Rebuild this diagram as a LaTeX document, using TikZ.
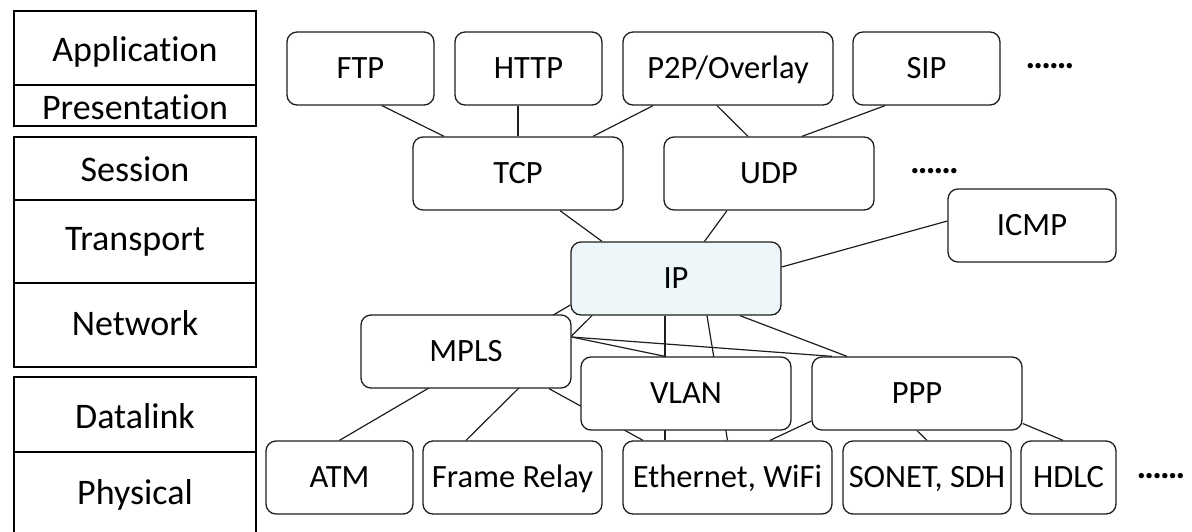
\documentclass[tikz,border=0pt]{standalone}
\usepackage{fontspec}
\setmainfont{Carlito}[Ligatures=NoCommon]
\usetikzlibrary{backgrounds}
\definecolor{ipfill}{RGB}{237,246,248}
\definecolor{edge}{RGB}{30,30,30}
\newcommand\mysixdots{.\kern-1.8pt.\kern-1.8pt.\kern-1.8pt.\kern-1.8pt.\kern-1.8pt.}
\begin{document}
\begin{tikzpicture}[x=1pt,y=-1pt,
  proto/.style={draw=edge, line width=1.3pt, rounded corners=10pt, fill=white,
    inner sep=0pt, minimum height=73pt, text height=20.9pt, text depth=0pt,
    font=\fontsize{32.5}{39}\selectfont},
  layer/.style={inner sep=0pt, text height=23.2pt, text depth=0pt,
    font=\fontsize{36}{43}\selectfont},
  frame/.style={draw=black, line width=1.3pt},
  link/.style={draw=edge, line width=1.2pt},
  dots/.style={inner sep=0pt, anchor=base, font=\fontsize{36}{43}\selectfont\bfseries}]
\useasboundingbox (0,0) rectangle (1192,532);
\clip (0,0) rectangle (1192,532);
% OSI layer column
\draw[frame] (14,11) rectangle (256,126);
\draw[frame] (14,85) -- (256,85);
\draw[frame] (14,137) rectangle (256,367);
\draw[frame] (14,200) -- (256,200);
\draw[frame] (14,283) -- (256,283);
\draw[frame] (14,377) rectangle (256,545);
\draw[frame] (14,452) -- (256,452);
\node[layer] (app) at (135,49.5) {Application};
\node[layer] (pres) at (135,107.5) {Presentation};
\node[layer] (sess) at (135,170) {Session};
\node[layer] (trans) at (135,239) {Transport};
\node[layer] (net) at (135,323.5) {Network};
\node[layer] (dl) at (135,416.5) {Datalink};
\node[layer] (phys) at (135,493) {Physical};
% protocol nodes
\node[proto, minimum width=147pt] (ftp) at (360.5,68.5) {FTP};
\node[proto, minimum width=147pt] (http) at (528.5,68.5) {HTTP};
\node[proto, minimum width=210pt] (p2p) at (728,68.5) {P2P/Overlay};
\node[proto, minimum width=147pt] (sip) at (926.5,68.5) {SIP};
\node[proto, minimum width=210pt] (tcp) at (518,173.5) {TCP};
\node[proto, minimum width=210pt] (udp) at (769,173.5) {UDP};
\node[proto, minimum width=168pt] (icmp) at (1032,225.5) {ICMP};
\node[proto, minimum width=210pt, fill=ipfill] (ip) at (676,278.5) {IP};
\node[proto, minimum width=210pt] (mpls) at (466,351.5) {MPLS};
\node[proto, minimum width=210pt] (vlan) at (686,393.5) {VLAN};
\node[proto, minimum width=210pt] (ppp) at (917,393.5) {PPP};
\node[proto, minimum width=147pt] (atm) at (339.5,477.5) {ATM};
\node[proto, minimum width=179pt] (fr) at (512.5,477.5) {Frame Relay};
\node[proto, minimum width=209pt] (eth) at (727.5,477.5) {Ethernet, WiFi};
\node[proto, minimum width=168pt] (sonet) at (927,477.5) {SONET, SDH};
\node[proto, minimum width=95pt] (hdlc) at (1068.5,477.5) {HDLC};
\node[dots] (d1) at (1050,69) {\mysixdots};
\node[dots] (d2) at (934.5,174) {\mysixdots};
\node[dots] (d3) at (1161,478) {\mysixdots};
% connectors
\begin{scope}[on background layer]
\draw[link] ([xshift=21.5pt]ftp.south) -- ([xshift=-74pt]tcp.north);
\draw[link] ([xshift=-10.5pt]http.south) -- (tcp.north);
\draw[link] ([xshift=-75pt]p2p.south) -- ([xshift=75pt]tcp.north);
\draw[link] ([xshift=-11pt]p2p.south) -- ([xshift=-21pt]udp.north);
\draw[link] ([xshift=-41.5pt]sip.south) -- ([xshift=33pt]udp.north);
\draw[link] ([xshift=42pt]tcp.south) -- ([xshift=-74pt]ip.north);
\draw[link] ([xshift=-42pt]udp.south) -- ([xshift=28.5pt]ip.north);
\draw[link] ([yshift=11.5pt]ip.east) -- ([yshift=4.5pt]icmp.west);
\draw[link] ([yshift=-26.5pt]ip.west) -- (atm.north);
\draw[link] ([xshift=-84pt]ip.south) -- ([xshift=-46.5pt]fr.north);
\draw[link] ([yshift=14.5pt]mpls.east) -- ([xshift=-21pt]vlan.north);
\draw[link] ([yshift=14.5pt]mpls.east) -- ([xshift=-85pt]ppp.north);
\draw[link] ([xshift=-11pt]ip.south) -- ([xshift=-62.5pt]eth.north);
\draw[link] ([xshift=31pt]ip.south) -- (eth.north);
\draw[link] ([xshift=83pt]mpls.south) -- ([xshift=-84.5pt]eth.north);
\draw[link] ([xshift=64pt]ip.south) -- ([xshift=-70pt]ppp.north);
\draw[link] ([yshift=-27.5pt]ppp.west) -- ([xshift=42.5pt]eth.north);
\draw[link] (ppp.south) -- (sonet.north);
\draw[link] ([yshift=-30pt]ppp.east) -- ([xshift=-5.5pt]hdlc.north);
\end{scope}
\end{tikzpicture}
\end{document}
